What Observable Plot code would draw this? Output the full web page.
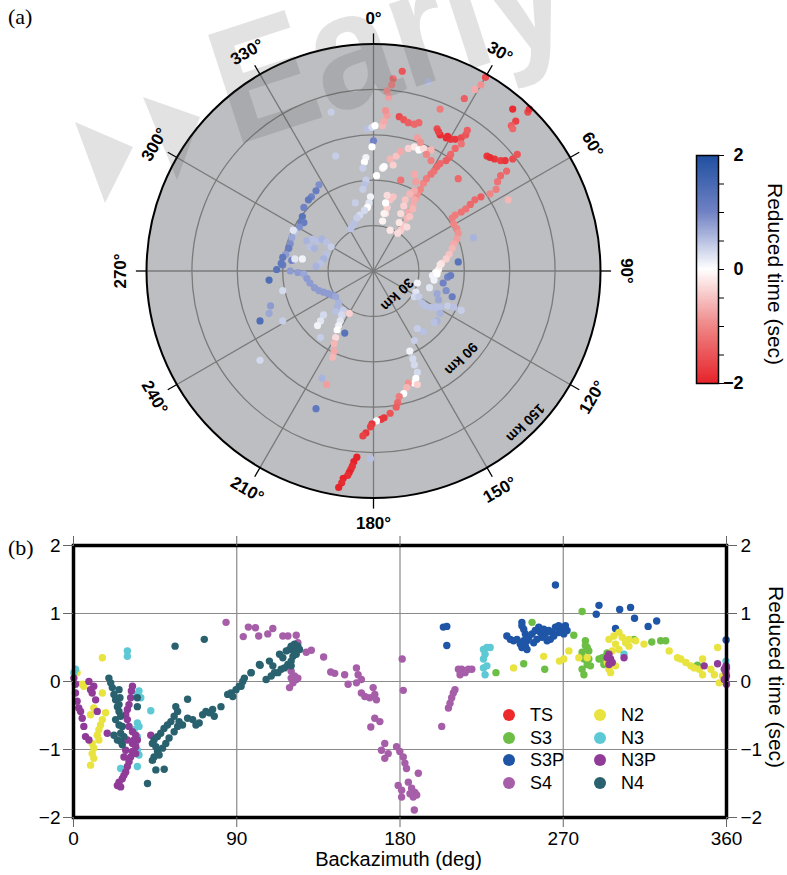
<!DOCTYPE html>
<html><head><meta charset="utf-8">
<script src="https://cdn.jsdelivr.net/npm/d3@7"></script>
<script src="https://cdn.jsdelivr.net/npm/@observablehq/plot@0.6"></script>
<style>
body{margin:0;background:#fff;}
#page{position:relative;width:787px;height:875px;overflow:hidden;font-family:"Liberation Sans",Arial,sans-serif;background:#fff;}
.abs{position:absolute;}
.vlabel{writing-mode:vertical-rl;white-space:nowrap;}
.wm{position:absolute;left:0;top:0;width:787px;height:530px;background:rgba(60,60,60,0.15);pointer-events:none;}
.leg{position:absolute;font-size:18px;line-height:18px;white-space:nowrap;}
.leg span.dot{display:inline-block;width:12px;height:12px;border-radius:50%;position:absolute;left:-27px;top:3px;}
</style></head><body>
<div id="page">
  <div id="panelb" class="abs" style="left:0;top:530px"></div>
  <div id="polar" class="abs" style="left:0;top:0"></div>
  <div id="cbar" class="abs" style="left:680px;top:140px"></div>
  <div class="abs vlabel" style="left:763px;top:183px;font-size:21px;">Reduced time (sec)</div>
  <div class="abs" style="left:8px;top:4px;font:22px 'Liberation Serif',serif;">(a)</div>
  <div class="abs" style="left:8px;top:535px;font:22px 'Liberation Serif',serif;">(b)</div>
  <div class="abs" style="left:0;width:787px;top:848px;text-align:center;font-size:20px;padding-left:10px;box-sizing:border-box;">Backazimuth (deg)</div>
  <div class="abs vlabel" style="left:764px;top:586px;font-size:21px;">Reduced time (sec)</div>
  <div id="legend"></div>
  <div class="wm" style="clip-path:polygon(75px 122px,133px 147px,105px 203px)"></div>
  <div class="wm" style="clip-path:polygon(143px 97px,200px 117px,177px 180px)"></div>
  <div class="abs" style="left:234px;top:7.3px;font-size:165px;line-height:165px;font-weight:bold;color:rgba(60,60,60,0.15);transform-origin:0 139.7px;transform:rotate(-18deg) scaleX(0.9);pointer-events:none;white-space:nowrap;">Early</div>
</div>
<script>
// ---------- Panel (a): stations, [east km, north km, reduced time s] ----------
const trackNorthRed = [[19,132,-1.5],[13,127,-1.2],[12,123,-1.0],[9,119,-0.9],[10,115,-0.8],[36,125,0.5],[74,128,-1.6],[71,123,-0.9],[67,120,-0.7],[60,114,-1.4],[44,107,-1.1],[92,107,-1.9],[102,105,-1.6],[103,107,-1.8],[94,99,-1.7],[91,96,-1.4],[92,94,-1.3],[17,102,-1.6],[20,100,-1.5],[23,98,-1.4],[27,97,-1.3],[30,98,-1.3],[6,96,-0.6],[7,99,-0.7],[9,103,-0.8],[8,106,-0.9]];
const clusterNE = [[42,94,-1.6],[44,90,-1.9],[48,88,-1.9],[51,87,-1.8],[54,87,-1.8],[58,88,-1.6],[61,90,-1.5],[62,93,-1.4],[43,92,-1.7],[49,89,-1.9],[75,76,-1.8],[80,74,-1.8],[84,73,-1.7],[87,73,-1.8],[92,74,-1.6],[95,77,-1.5],[88,66,-1.3],[89,47,-0.6],[77,75,-1.9]];
const trackNE = [[18,27,-0.4],[20,30,-0.5],[22,35,-0.6],[23,39,-0.7],[26,43,-0.7],[28,48,-0.8],[29,51,-0.9],[31,54,-1.0],[33,58,-1.0],[35,61,-1.1],[38,64,-1.2],[40,66,-1.2],[42,69,-1.3],[44,71,-1.3],[48,73,-1.4],[50,75,-1.4],[51,77,-1.3],[58,84,-1.2],[54,81,-1.3],[56,61,-1.3],
  [6,33,-0.1],[8,38,-0.3],[9,42,-0.4],[11,47,-0.5],[13,49,-0.5],[6,68,-0.1],[18,60,-1.2],[11,74,-0.6],[15,76,-0.5],[18,79,-0.7],[23,81,-0.4],[27,82,-0.2],[30,80,0.0],[33,81,-0.3],[38,80,-0.6],[29,88,-0.8],[31,85,-0.9],[35,77,-1.0],[38,73,-1.1],[13,70,-0.4],[9,50,-0.3],[7,69,0.0],
  [27,64,-0.7],[28,59,-0.8],[27,53,-0.7],[24,51,-0.6],[21,47,-0.5],[20,43,-0.4],[18,38,-0.3],[17,32,-0.2],[27,47,-0.7],[26,41,-0.6],[24,36,-0.5],[22,29,-0.3],[8,45,0.0],[7,38,-0.1],[11,27,-0.2],[16,25,-0.3]];
const trackEast = [[71,49,-1.4],[67,47,-1.3],[64,44,-1.3],[61,41,-1.2],[58,39,-1.2],[54,37,-1.1],[52,35,-1.1],[53,31,-1.0],[55,28,-1.0],[56,25,-0.9],[55,21,-0.8],[53,18,-0.7],[52,15,-0.6],[50,11,-0.5],[48,8,-0.4],[45,5,-0.3],[43,1,-0.1],[41,-1,0.0],[39,-3,0.1],[66,22,0.6],[56,6,1.3],[84,63,-1.3],[82,59,-1.2],[81,54,-1.1],[77,51,-1.0]];
const trackSouthEast = [[44,4,-0.2],[42,-2,0.0],[40,-6,0.1],[37,-11,0.2],[29,-8,0.1],[28,-14,0.2],[27,-17,0.3],[30,-17,0.4],[32,-21,0.5],[34,-23,0.5],[38,-24,0.5],[41,-24,0.5],[44,-24,0.5],[49,-23,0.4],[53,-24,0.5],[58,-26,0.4],[46,-8,1.0],[48,-13,0.9],[49,-4,1.0],[51,-3,1.1],[52,-17,1.1],[42,-15,0.7],[43,-19,0.7],[44,-28,0.6],[42,-33,0.6],[40,-34,0.5],[33,-40,0.5],[29,-38,0.4],[27,-46,0.4],[24,-53,0.1],[26,-58,0.3],[27,-62,0.3],[29,-67,0.3],[28,-71,0.0],[27,-74,0.0],[29,-75,-0.4],[23,-74,-0.9],[22,-77,-0.6],[20,-81,0.0],[17,-83,-1.1],[16,-87,-1.3],[15,-90,-1.4],[11,-94,-1.5],[7,-97,-1.8],[5,-98,-1.8],[2,-99,0.0],[-1,-101,-1.8],[-2,-103,-1.7],[-5,-107,-1.8],[-7,-109,-1.7],[-11,-123,-2.0],[-13,-126,-2.0],[-14,-129,-1.9],[-15,-131,-1.9],[-16,-133,-2.0],[-17,-135,-1.9],[-20,-137,-2.0],[-21,-140,-1.9],[-23,-143,-2.0],[-2,-124,0.5]];
const trackSouthWest = [[-64,1,1.3],[-60,4,1.1],[-55,0,0.8],[-50,-1,0.8],[-46,-2,0.7],[-44,-5,0.8],[-42,-8,0.8],[-39,-11,0.8],[-36,-13,0.8],[-33,-14,0.8],[-30,-15,0.8],[-27,-16,0.8],[-25,-17,0.7],[-23,-21,0.6],[-24,-24,0.6],[-25,-27,0.5],[-20,-26,0.4],[-21,-29,0.3],[-22,-33,0.2],[-23,-36,0.1],[-16,-28,-0.4],[-33,-29,0.3],[-35,-33,0.2],[-37,-36,0.1],[-24,-39,0.0],[-25,-44,-0.3],[-26,-48,-0.6],[-26,-53,-0.7],[-27,-57,-0.6],[-19,-41,1.3],[-35,-44,0.4],[-34,-71,0.6],[-31,-75,-0.8],[-38,-91,1.2],[-69,-6,1.4],[-60,-13,0.3],[-68,-23,0.8],[-69,-28,0.7],[-75,-33,1.4],[-60,-33,0.4],[-75,-59,0.3]];
const trackWest = [[-36,57,0.9],[-38,53,1.1],[-41,49,1.0],[-43,47,1.2],[-46,42,1.0],[-47,36,1.3],[-48,32,1.2],[-46,32,1.1],[-49,29,0.9],[-52,26,0.5],[-53,27,0.2],[-54,22,0.7],[-55,18,0.9],[-56,15,1.1],[-58,11,0.8],[-60,9,1.2],[-61,5,1.2],[-54,7,1.0],[-52,8,0.2],[-47,8,0.1],
  [-44,20,0.6],[-40,21,0.5],[-37,20,0.5],[-34,21,0.6],[-31,19,0.5],[-28,16,0.4],[-31,11,0.5],[-33,8,0.6],[-35,5,0.5],[-38,3,0.6],[-42,16,0.5],[-39,15,0.6],[-28,105,0.4],[-25,76,0.4]];
const trackNorth = [[-4,94,0.5],[-1,95,0.3],[1,96,0.0],[0,86,1.0],[-1,82,0.0],[-5,75,0.1],[-6,72,0.0],[-7,68,0.4],[2,63,0.0],[-5,60,0.4],[-6,57,0.5],[-7,54,0.4],[-2,49,0.1],[-3,45,0.2],[-4,42,0.0],[-6,40,0.3],[-9,37,0.3],[-11,35,0.4],[-13,31,0.5],[-15,28,0.5],[-12,45,0.4]];

const ringKm = [30, 60, 90, 120];
const outerKm = [150];
const spokeDeg = [0, 30, 60, 90, 120, 150, 180, 210, 240, 270, 300, 330];
const kmLabels = [30, 90, 150];
const cbarTicks = [-2, -1.5, -1, -0.5, 0, 0.5, 1, 1.5, 2];
const cbarLabels = [2, 0, -2];

// ---------- Panel (b): [backazimuth deg, reduced time s] ----------
const categories = ["TS","S3","S3P","S4","N2","N3","N3P","N4"];
const catColors = ["#ed2a2b","#6cbe45","#1f55a6","#a65ea9","#e8e33e","#5dc9d4","#8f3b97","#29616f"];
const TS = [];
const S3 = [[280.4,1.03],[252.8,0.87],[275.8,0.68],[248.2,0.26],[259.8,0.18],[232.9,0.13],[282.2,0.60],[283.2,0.50],[280.4,0.43],[281.4,0.33],[283.2,0.25],[284.1,0.33],[280.4,0.18],[281.4,0.10],[285.0,0.23],[289.7,0.33],[291.5,0.35],[293.3,0.37],[292.4,0.25],[294.2,0.42],[309.0,0.62],[318.8,0.58],[323.7,0.60],[326.5,0.60],[344.0,0.24],[282.2,0.53],[292.4,0.30],[284.1,0.45]];
const S3P = [[265.7,1.42],[203.9,0.80],[205.8,0.81],[205.8,0.53],[289.7,1.12],[288.2,0.99],[301.1,1.06],[307.1,1.09],[309.3,0.93],[298.8,0.78],[316.8,0.81],[321.5,0.89],[359.8,0.61],
  [238.9,0.67],[240.8,0.62],[242.6,0.60],[244.5,0.62],[246.3,0.55],[247.2,0.50],[249.1,0.52],[248.2,0.60],[247.2,0.87],[248.2,0.77],[249.1,0.70],[251.0,0.65],[252.8,0.70],[254.6,0.75],[256.5,0.80],[257.4,0.72],[259.2,0.77],[260.1,0.70],[262.0,0.75],[263.8,0.72],[265.7,0.80],[267.5,0.82],[269.4,0.77],[271.2,0.82],[272.1,0.75],[270.3,0.70],[267.5,0.72],[264.8,0.67],[262.9,0.62],[261.1,0.60],[258.3,0.65],[255.5,0.62],[253.7,0.57],[250.0,0.47],[247.2,0.82],[250.0,0.60]];
const S4 = [[84.1,0.87],[96.4,0.80],[100.3,0.79],[93.6,0.66],[102.1,0.67],[107.1,0.70],[109.9,0.78],[115.4,0.67],[118.2,0.67],[122.8,0.68],[123.7,0.57],[128.3,0.43],[131.1,0.46],[137.9,0.36],[141.8,0.14],[144.0,0.12],[149.5,0.10],[156.0,0.20],[156.9,0.10],[158.7,0.03],[156.0,-0.02],[151.4,-0.04],
  [118.2,0.23],[120.0,0.15],[121.8,0.08],[122.8,0.03],[121.0,-0.02],[119.1,-0.09],[123.7,0.05],[120.0,0.05],
  [158.7,-0.17],[160.6,-0.22],[163.3,-0.24],[166.1,-0.19],[165.2,-0.09],[167.0,-0.27],
  [166.1,-0.54],[168.9,-0.59],[163.9,-0.67],[181.2,0.33],[181.8,-0.13],
  [171.6,-0.91],[169.8,-1.01],[171.6,-1.13],[173.5,-1.06],
  [178.1,-0.96],[179.9,-1.03],[181.8,-1.11],[182.7,-1.20],[183.6,-1.28],[190.1,-1.35],[184.6,-1.48],[179.0,-1.53],[180.9,-1.60],[180.9,-1.70],[186.4,-1.57],[188.2,-1.63],[189.2,-1.67],[185.5,-1.65],[187.3,-1.70],[187.9,-1.89],
  [203.0,-0.66],[206.7,-0.39],[207.6,-0.32],[208.5,-0.24],[209.4,-0.17],[210.3,-0.12],[213.1,0.10],[214.0,0.18],[215.9,0.13],[217.7,0.18],[219.6,0.18],[212.2,0.18]];
const N2 = [[15.9,0.35],[2.0,0.13],[4.8,-0.04],[5.7,-0.07],[15.9,-0.17],[11.2,-0.39],[17.7,-0.46],[9.4,-0.49],[15.9,-0.56],[14.9,-0.64],[14.0,-0.71],[13.1,-0.79],[14.0,-0.86],[10.3,-0.91],[11.2,-0.98],[10.3,-1.06],[11.2,-1.13],[9.4,-1.23],
  [242.6,0.20],[259.2,0.37],[267.9,0.30],[270.3,0.33],[273.1,0.45],[278.6,0.35],[283.2,0.35],
  [295.2,0.62],[297.9,0.67],[300.7,0.72],[302.5,0.65],[304.4,0.57],[306.2,0.52],[298.8,0.55],[300.7,0.47],[297.0,0.45],[294.2,0.28],[295.2,0.18],[298.8,0.23],[306.2,0.62],[309.9,0.60],[314.5,0.55],[296.1,0.13],
  [328.4,0.45],[333.0,0.35],[334.8,0.33],[337.6,0.28],[340.3,0.23],[342.2,0.20],[345.0,0.18],[346.8,0.33],[346.8,0.10],[351.4,0.18],[353.3,0.10],[355.1,0.50],[356.0,-0.02],[357.8,0.08]];
const N3 = [[226.0,0.47],[226.9,0.40],[227.9,0.50],[229.7,0.50],[226.0,0.33],[226.0,0.20],[226.9,0.10],[227.9,0.23],[303.5,0.40],[359.7,0.30],[360,0.23],
  [1.1,0.18],[0.2,0.13],[29.7,0.45],[29.7,0.37],[36.1,-0.14],[35.2,-0.19],[37.1,-0.24],[35.2,-0.61],[36.1,-0.66],[33.4,-0.71],[35.2,-0.81],[34.3,-0.91],[35.2,-1.01],[36.1,-1.08],[35.2,-1.25],[42.6,-0.43],[26.0,-1.28]];
const N3P = [[0.2,0.05],[1.1,-0.04],[1.1,-0.17],[2.0,-0.29],[2.9,-0.39],[3.9,-0.44],[4.8,-0.54],[5.7,-0.66],[6.6,-0.81],[8.5,-0.86],[9.4,-0.12],[8.5,0.0],[11.2,-0.07],[10.3,-0.17],[12.2,-0.27],[13.1,-0.44],[18.6,-0.76],
  [32.5,-0.07],[31.9,-0.14],[31.5,-0.24],[30.6,-0.34],[29.7,-0.41],[28.8,-0.49],[29.7,-0.56],[30.6,-0.66],[32.5,-0.74],[34.3,-0.79],[35.2,-0.86],[34.3,-0.96],[32.5,-1.03],[31.5,-1.11],[30.6,-1.18],[29.7,-1.25],[28.8,-1.33],[27.8,-1.38],[26.9,-1.43],[25.1,-1.48],[24.2,-1.53],[26.0,-1.55],[29.7,-0.86],[28.8,-1.01],[27.8,-1.11],[33.4,-0.86],[32.5,-0.91],[34.3,-1.06],[42.6,-0.79],
  [295.2,0.40],[296.1,0.33],[294.2,0.35],[297.0,0.28],[295.2,0.25],[303.5,0.35],
  [358.8,0.18],[359.7,0.13],[360,0.08],[359.5,0.03],[358.8,0.03],[360,-0.04],[359.7,0.23],[360,0.20],[347.7,0.23],[355.1,0.26]];
const N4 = [[56.0,0.52],[72.1,0.62],[85.0,-0.19],[86.8,-0.17],[87.8,-0.22],[91.4,-0.07],[93.3,0.0],[94.2,0.05],[97.9,0.13],[102.9,0.24],[106.2,0.03],[108.0,0.30],[109.9,0.23],[110.8,0.13],[109.0,0.08],[113.6,0.40],[115.4,0.35],[117.3,0.45],[119.1,0.47],[120.0,0.52],[121.8,0.55],[122.8,0.50],[123.7,0.52],[120.0,0.30],[118.2,0.25],[116.3,0.20],[121.0,0.37],[121.8,0.43],[124.6,0.47],[114.5,0.18],[112.7,0.13],[120.0,0.23],[122.8,0.40],
  [19.5,0.05],[20.5,-0.02],[21.4,-0.09],[22.3,-0.19],[23.2,-0.27],[25.1,-0.12],[25.6,-0.24],[24.2,-0.37],[25.1,-0.44],[26.0,-0.51],[23.2,-0.56],[25.1,-0.64],[26.9,-0.66],[22.3,-0.79],[24.2,-0.86],[26.0,-0.88],[26.9,-0.93],[35.2,-0.24],[35.2,-0.37],[25.1,-0.34],[26.0,-0.76],[27.8,-0.81],
  [40.8,-1.50],[50.0,-1.29],[45.4,-1.30],
  [56.4,-0.37],[57.4,-0.44],[55.5,-0.51],[53.7,-0.59],[51.8,-0.64],[49.9,-0.69],[48.1,-0.76],[46.3,-0.81],[44.4,-0.86],[43.5,-0.91],[45.4,-0.96],[46.3,-1.03],[44.4,-1.11],[43.5,-1.16],[47.2,-1.08],[49.1,-0.98],[50.9,-0.91],[52.7,-0.83],[55.5,-0.74],[57.4,-0.66],[58.2,-0.59],[60.1,-0.64],
  [62.9,-0.54],[65.7,-0.56],[67.5,-0.64],[69.3,-0.61],[71.2,-0.49],[73.0,-0.44],[74.8,-0.46],[76.7,-0.41],[77.6,-0.51],[81.3,-0.37],[62.9,-0.26],[89.6,-0.12],[92.4,-0.07],[97.9,0.13],[102.5,0.25]];
const xTicksB = [0, 90, 180, 270, 360];
const yTicksB = [-2, -1, 0, 1, 2];

// ---------- build ----------
const toRad = d => d * Math.PI / 180;
const stations = [trackNorthRed, clusterNE, trackNE, trackEast, trackSouthEast, trackSouthWest, trackWest, trackNorth]
  .flat().map(([e, n, t]) => ({e, n, t}));
const timeColor = {type: "linear", domain: [-2, -1, 0, 1, 2],
  range: ["#e6232a", "#ef8686", "#ffffff", "#7082c4", "#1f4fa0"], clamp: true};
const fmtSigned = d => d < 0 ? "\u2212" + Math.abs(d) : String(d);
const labelRot = a => (a > 90 && a < 270) ? a - 180 : (a >= 270 ? a - 360 : a);

const polar = Plot.plot({
  width: 787, height: 545, margin: 0,
  style: {background: "none", fontFamily: "'Liberation Sans', Arial, sans-serif"},
  x: {domain: [-150, 150], range: [146, 600], axis: null},
  y: {domain: [-150, 150], range: [497.5, 43.5], axis: null},
  r: {type: "linear", domain: [0, 150], range: [0, 227]},
  color: timeColor,
  marks: [
    Plot.dot(outerKm, {x: () => 0, y: () => 0, r: d => d, fill: "#bdbec1", stroke: "none"}),
    Plot.dot(ringKm, {x: () => 0, y: () => 0, r: d => d, fill: "none", stroke: "#7a7a7a", strokeWidth: 1.3}),
    Plot.link(spokeDeg, {x1: () => 0, y1: () => 0, x2: a => 150 * Math.sin(toRad(a)), y2: a => 150 * Math.cos(toRad(a)), stroke: "#7a7a7a", strokeWidth: 1.3}),
    Plot.dot(stations, {x: "e", y: "n", fill: "t", r: 3.6}),
    Plot.text(kmLabels, {x: d => (d - 8) * Math.sin(toRad(135)), y: d => (d - 8) * Math.cos(toRad(135)), text: d => d + " km", rotate: 135, fontWeight: "bold", fontSize: 14, fill: "black"}),
    Plot.dot(outerKm, {x: () => 0, y: () => 0, r: d => d, fill: "none", stroke: "black", strokeWidth: 2}),
    Plot.link(spokeDeg, {x1: a => 150 * Math.sin(toRad(a)), y1: a => 150 * Math.cos(toRad(a)), x2: a => 157 * Math.sin(toRad(a)), y2: a => 157 * Math.cos(toRad(a)), stroke: "black", strokeWidth: 1.3}),
    Plot.text(spokeDeg, {x: a => 167 * Math.sin(toRad(a)), y: a => 167 * Math.cos(toRad(a)), text: a => a + "°", rotate: labelRot, fontWeight: "bold", fontSize: 17, fill: "black"})
  ]
});
document.getElementById("polar").append(polar);

const cbarBins = d3.range(-2, 2, 0.02);
const cbar = Plot.plot({
  width: 90, height: 260, marginLeft: 16, marginRight: 52, marginTop: 15, marginBottom: 17,
  style: {background: "none", fontFamily: "'Liberation Sans', Arial, sans-serif"},
  x: {domain: [0, 1], axis: null},
  y: {domain: [-2, 2], axis: null},
  color: timeColor,
  marks: [
    Plot.rect(cbarBins, {x1: () => 0, x2: () => 1, y1: d => d, y2: d => Math.min(2, d + 0.04), fill: d => d + 0.01, shapeRendering: "crispEdges"}),
    Plot.frame({stroke: "black", strokeWidth: 1.5}),
    Plot.axisY({anchor: "right", ticks: cbarTicks, tickSize: 5, tickFormat: () => "", label: null, stroke: "black"}),
    Plot.text(cbarLabels, {y: d => d, frameAnchor: "right", dx: 25, textAnchor: "end", text: fmtSigned, fontWeight: "bold", fontSize: 18, fill: "black"})
  ]
});
document.getElementById("cbar").append(cbar);

const seriesB = [TS, S3, S3P, S4, N2, N3, N3P, N4];
const recordsB = categories.flatMap((c, i) => seriesB[i].map(([az, t]) => ({az, t, cat: c})));
const panelB = Plot.plot({
  width: 787, height: 345, marginTop: 15, marginBottom: 58, marginLeft: 73, marginRight: 61,
  style: {background: "none", fontFamily: "'Liberation Sans', Arial, sans-serif", fontSize: "19px", color: "black"},
  x: {domain: [0, 360]},
  y: {domain: [-2, 2]},
  color: {domain: categories, range: catColors},
  marks: [
    Plot.gridX([90, 180, 270], {stroke: "#8a8a8a", strokeOpacity: 1, strokeWidth: 1.2}),
    Plot.gridY([-1, 0, 1], {stroke: "#8a8a8a", strokeOpacity: 1, strokeWidth: 1.2}),
    Plot.dot(recordsB, {x: "az", y: "t", fill: "cat", r: 3.7}),
    Plot.frame({stroke: "black", strokeWidth: 3.5}),
    Plot.axisX({anchor: "bottom", ticks: xTicksB, tickSize: 10, tickPadding: 4, tickFormat: fmtSigned, label: null, stroke: "#666"}),
    Plot.axisX({anchor: "top", ticks: xTicksB, tickSize: 10, tickFormat: () => "", label: null, stroke: "#666"}),
    Plot.axisY({anchor: "left", ticks: yTicksB, tickSize: 10, tickPadding: 3, tickFormat: fmtSigned, label: null, stroke: "#666"}),
    Plot.axisY({anchor: "right", ticks: yTicksB, tickSize: 10, tickPadding: 4, tickFormat: fmtSigned, label: null, stroke: "#666"})
  ]
});
document.getElementById("panelb").append(panelB);

// legend (HTML)
const legend = document.getElementById("legend");
categories.forEach((c, i) => {
  const col = Math.floor(i / 4), row = i % 4;
  const el = document.createElement("div");
  el.className = "leg";
  el.style.left = (col === 0 ? 530 : 621) + "px";
  el.style.top = (706 + row * 22.7) + "px";
  el.innerHTML = `<span class="dot" style="background:${catColors[i]}"></span>${c}`;
  legend.append(el);
});
</script>
</body></html>
